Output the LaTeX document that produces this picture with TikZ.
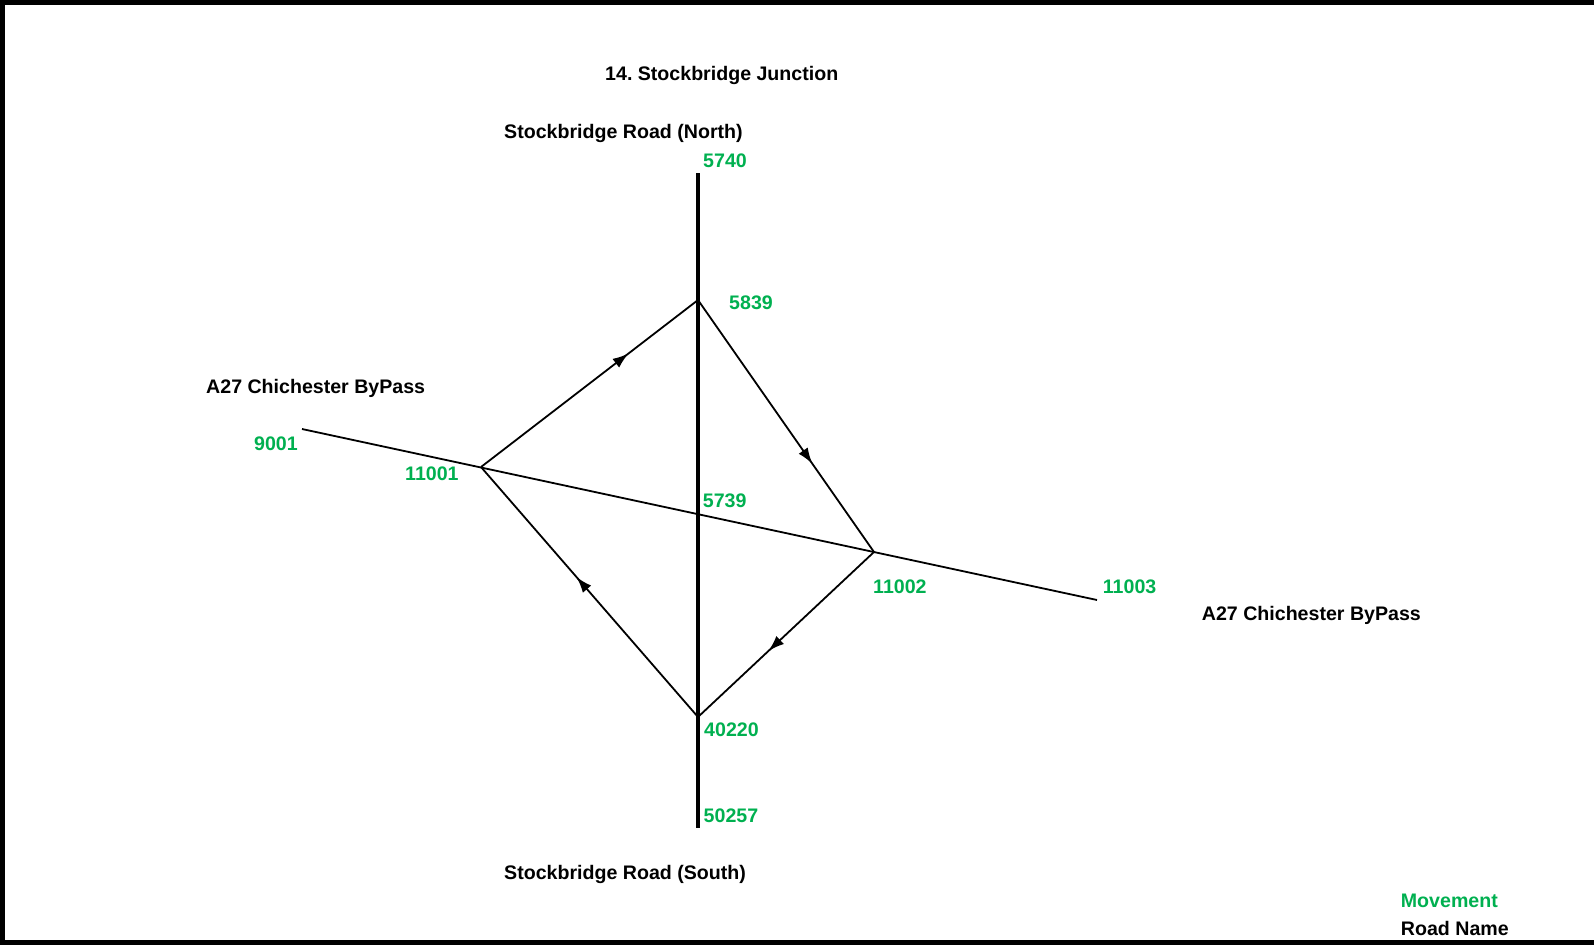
\documentclass[tikz,border=0pt]{standalone}
\usepackage{fontspec}
\setmainfont{Liberation Sans}
\usetikzlibrary{decorations.markings,arrows.meta}
\definecolor{movegreen}{RGB}{0,176,80}
\frenchspacing
\tikzset{
  road/.style={line width=3.3pt},
  link/.style={line width=1.8pt},
  roadname/.style={font=\fontsize{19.6}{24}\selectfont\bfseries, anchor=base west, inner sep=0pt},
  movement/.style={roadname, text=movegreen},
  midarrow/.style={postaction={decorate}, decoration={markings,
      mark=at position #1 with {\arrow{Latex[length=16pt,width=11pt]}}}}
}
\begin{document}
\begin{tikzpicture}[x=1pt,y=-1pt]
  \useasboundingbox (0,0) rectangle (1594,945);
  % frame
  \draw[line width=4.7pt] (1594,2.35) -- (2.5,2.35) -- (2.5,942.6) -- (1594,942.6);
  % junction points
  \coordinate (n5740) at (698,173);
  \coordinate (n50257) at (698,828);
  \coordinate (n9001) at (302,429);
  \coordinate (n11003) at (1097,600);
  \coordinate (n5839) at (698,300);
  \coordinate (n11001) at (481,467);
  \coordinate (n11002) at (874,552);
  \coordinate (n40220) at (698,717);
  % roads
  \draw[road] (n5740) -- (n50257);
  \draw[link] (n9001) -- (n11003);
  % movements round the junction
  \draw[link, midarrow=0.68] (n11001) -- (n5839);
  \draw[link, midarrow=0.65] (n5839) -- (n11002);
  \draw[link, midarrow=0.6] (n11002) -- (n40220);
  \draw[link, midarrow=0.56] (n40220) -- (n11001);
  % labels
  \node[roadname] (title) at (605,80.5) {14. Stockbridge Junction};
  \node[roadname] (north) at (504,138) {Stockbridge Road (North)};
  \node[roadname] (south) at (504,879) {Stockbridge Road (South)};
  \node[roadname] (west) at (206,393) {A27 Chichester ByPass};
  \node[roadname] (east) at (1201.7,620.5) {A27 Chichester ByPass};
  \node[movement] (l5740) at (703,167) {5740};
  \node[movement] (l5839) at (729,309) {5839};
  \node[movement] (l9001) at (254,450) {9001};
  \node[movement] (l11001) at (405,480) {11001};
  \node[movement] (l5739) at (702.7,507) {5739};
  \node[movement] (l11002) at (873,593.5) {11002};
  \node[movement] (l11003) at (1102.7,593.5) {11003};
  \node[movement] (l40220) at (704,736) {40220};
  \node[movement] (l50257) at (703.5,822) {50257};
  % key
  \node[movement] (keymove) at (1400.7,907.3) {Movement};
  \node[roadname] (keyroad) at (1400.7,935) {Road Name};
\end{tikzpicture}
\end{document}
